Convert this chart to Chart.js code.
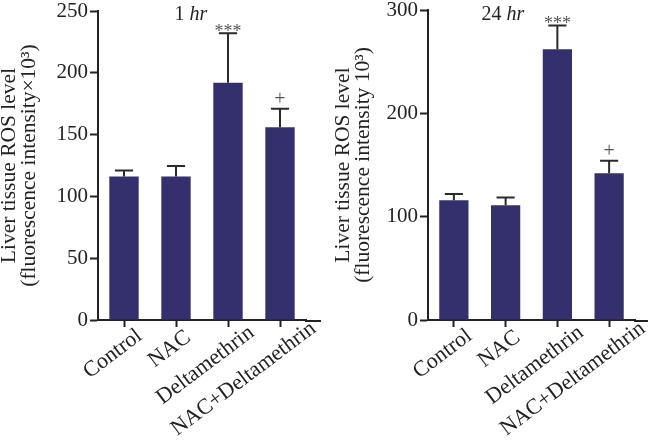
<!DOCTYPE html>
<html>
<head>
<meta charset="utf-8">
<script src="https://cdn.jsdelivr.net/npm/chart.js@4"></script>
<style>
  body { margin: 0; background: #fff; }
  #wrap { position: relative; width: 648px; height: 442px; overflow: hidden; }
  canvas { position: absolute; top: 0; }
  #chart1 { left: 0; }
  #chart2 { left: 330px; }
</style>
</head>
<body>
<div id="wrap">
  <canvas id="chart1" width="330" height="442"></canvas>
  <canvas id="chart2" width="318" height="442"></canvas>
</div>
<script>
const categories = ['Control', 'NAC', 'Deltamethrin', 'NAC+Deltamethrin'];

const ros1hr = [116, 116, 192, 156];
const err1hr = [5, 8.5, 40, 15];
const marks1hr = ['', '', '***', '+'];
const ticks1hr = { max: 250, step: 50 };

const ros24hr = [116, 111, 262, 142];
const err24hr = [6, 7.5, 23, 12];
const marks24hr = ['', '', '***', '+'];
const ticks24hr = { max: 300, step: 100 };

const serif = "'Liberation Serif', 'Times New Roman', serif";
const barColor = '#34306e';
const ink = '#222';

// error bars (upper half only) + significance marks
const errorBars = {
  id: 'errorBars',
  afterDatasetsDraw(chart, args, opts) {
    const ctx = chart.ctx;
    const y = chart.scales.y;
    const meta = chart.getDatasetMeta(0);
    ctx.save();
    meta.data.forEach((bar, i) => {
      const top = y.getPixelForValue(opts.values[i] + opts.errors[i]);
      const half = bar.width * 0.31;
      ctx.strokeStyle = '#2a2a2a';
      ctx.lineWidth = 2;
      ctx.beginPath();
      ctx.moveTo(bar.x, bar.y);
      ctx.lineTo(bar.x, top);
      ctx.moveTo(bar.x - half, top);
      ctx.lineTo(bar.x + half, top);
      ctx.stroke();

      const m = opts.marks[i];
      if (m) {
        ctx.fillStyle = '#555';
        ctx.textAlign = 'center';
        ctx.textBaseline = 'middle';
        if (m === '+') {
          ctx.font = '20px ' + serif;
          ctx.fillText(m, bar.x, top - 9);
        } else {
          ctx.font = '18px ' + serif;
          ctx.fillText(m, bar.x, top - 1);
        }
      }
    });
    ctx.restore();
  }
};

// panel label ("1 hr"), slanted category labels, short run of x axis past the last bar
const panelDeco = {
  id: 'panelDeco',
  afterDraw(chart, args, opts) {
    const ctx = chart.ctx;
    const area = chart.chartArea;
    const x = chart.scales.x;
    ctx.save();
    ctx.strokeStyle = ink;
    ctx.lineWidth = 2;
    ctx.beginPath();
    ctx.moveTo(area.right - 1, area.bottom + 1);
    ctx.lineTo(area.right + 15, area.bottom + 1);
    ctx.stroke();

    ctx.fillStyle = ink;
    ctx.font = '22px ' + serif;
    ctx.textAlign = 'right';
    ctx.textBaseline = 'alphabetic';
    const ang = 37 * Math.PI / 180;
    chart.data.labels.forEach((lab, i) => {
      const w = ctx.measureText(lab).width;
      const ex = x.getPixelForTick(i) + 8 + 0.166 * w;
      const ey = area.bottom + 23 - 0.07 * w;
      ctx.save();
      ctx.translate(ex, ey);
      ctx.rotate(-ang);
      ctx.fillText(lab, 0, 0);
      ctx.restore();
    });

    ctx.textBaseline = 'middle';
    ctx.textAlign = 'left';
    ctx.font = '20px ' + serif;
    const num = opts.num + ' ';
    const w1 = ctx.measureText(num).width;
    ctx.font = 'italic 20px ' + serif;
    const w2 = ctx.measureText('hr').width;
    const x0 = area.left + opts.x - (w1 + w2) / 2;
    ctx.font = '20px ' + serif;
    ctx.fillText(num, x0, 15);
    ctx.font = 'italic 20px ' + serif;
    ctx.fillText('hr', x0 + w1, 15);
    ctx.restore();
  }
};

function makeChart(id, values, errors, marks, yTicks, title, label, labelX, pad, titlePad) {
  return new Chart(document.getElementById(id), {
    type: 'bar',
    data: {
      labels: categories,
      datasets: [{
        data: values,
        backgroundColor: barColor,
        borderWidth: 0,
        barPercentage: 0.565,
        categoryPercentage: 1
      }]
    },
    options: {
      responsive: false,
      animation: false,
      layout: { padding: pad },
      plugins: {
        legend: { display: false },
        tooltip: { enabled: false },
        errorBars: { values: values, errors: errors, marks: marks },
        panelDeco: { num: label, x: labelX }
      },
      scales: {
        y: {
          min: 0,
          max: yTicks.max,
          afterFit(scale) {
            scale.width = 98;
            scale.paddingTop = 0;
            scale.paddingBottom = 0;
          },
          ticks: {
            stepSize: yTicks.step,
            color: ink,
            padding: 2,
            font: { family: serif, size: 21 }
          },
          grid: {
            drawOnChartArea: false,
            tickLength: 8,
            tickWidth: 2,
            color: ink
          },
          border: { display: true, color: ink, width: 2 },
          title: {
            display: true,
            text: title,
            color: ink,
            padding: { top: titlePad, bottom: 0 },
            font: { family: serif, size: 21.5, lineHeight: 0.9 }
          }
        },
        x: {
          afterFit(scale) {
            scale.height = 122;
            scale.paddingLeft = 0;
            scale.paddingRight = 0;
          },
          ticks: { display: false },
          grid: {
            offset: false,
            drawOnChartArea: false,
            tickLength: 7,
            tickWidth: 2,
            color: ink
          },
          border: { display: true, color: ink, width: 2 }
        }
      }
    },
    plugins: [errorBars, panelDeco]
  });
}

makeChart('chart1', ros1hr, err1hr, marks1hr, ticks1hr,
  ['Liver tissue ROS level', '(fluorescence intensity\u00d710\u00b3)'], '1', 93,
  { top: 11, right: 24, bottom: 0, left: 0 }, 0);
makeChart('chart2', ros24hr, err24hr, marks24hr, ticks24hr,
  ['Liver tissue ROS level', '(fluorescence intensity 10\u00b3)'], '24', 75,
  { top: 10, right: 13, bottom: 0, left: 0 }, 4);
</script>
</body>
</html>
